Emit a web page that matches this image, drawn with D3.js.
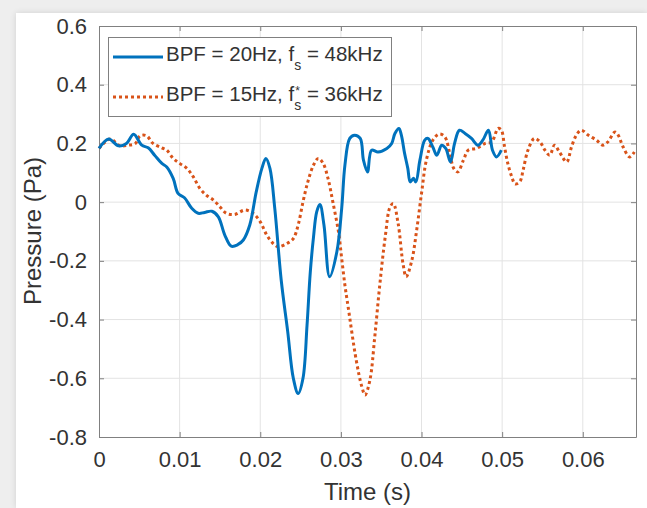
<!DOCTYPE html>
<html>
<head>
<meta charset="utf-8">
<script src="https://cdn.jsdelivr.net/npm/d3@7"></script>
<style>
  body { margin: 0; background: #eeeeee; }
  #panel { position: absolute; left: 16px; top: 13px; width: 631px; height: 495px; background: #fff; box-shadow: 0 0 6px rgba(0,0,0,0.12); }
  svg { position: absolute; left: 0; top: 0; font-family: "Liberation Sans", Arial, sans-serif; }
</style>
</head>
<body>
<div id="panel"></div>
<svg width="647" height="508"></svg>
<script>
// BPF = 20Hz, fs = 48kHz
var blueT = [0, 0.0012, 0.0024, 0.0034, 0.0043, 0.0053, 0.0061, 0.0069, 0.0078, 0.0084, 0.0092, 0.0098,
  0.0106, 0.0115, 0.0123, 0.0131, 0.0140, 0.0148, 0.0156, 0.0164, 0.0172, 0.0179, 0.0187, 0.0195,
  0.0202, 0.0207, 0.0212, 0.0218, 0.0226, 0.0234, 0.0241, 0.0247, 0.0253, 0.0258, 0.0262, 0.0266,
  0.0270, 0.0274, 0.0279, 0.0286, 0.0295, 0.0301, 0.0305, 0.0311, 0.0317, 0.0324, 0.0328, 0.0333,
  0.0338, 0.0346, 0.0357, 0.0363, 0.0367, 0.0372, 0.0375, 0.0379, 0.0383, 0.0386, 0.0390, 0.0393,
  0.0398, 0.0404, 0.0408, 0.0414, 0.0419, 0.0425, 0.0430, 0.0436, 0.0441, 0.0447, 0.0454, 0.0462,
  0.0470, 0.0476, 0.0483, 0.0488, 0.0493, 0.0499];
var blueP = [0.183, 0.215, 0.192, 0.200, 0.231, 0.194, 0.185, 0.160, 0.132, 0.120, 0.081, 0.030,
  0.015, -0.021, -0.038, -0.035, -0.031, -0.050, -0.112, -0.150, -0.145, -0.129, -0.078, 0.035,
  0.115, 0.149, 0.115, -0.021, -0.266, -0.44, -0.60, -0.652, -0.60, -0.42, -0.24, -0.12,
  -0.033, -0.008, -0.078, -0.254, -0.169, -0.021, 0.126, 0.217, 0.228, 0.217, 0.143, 0.103,
  0.177, 0.171, 0.183, 0.200, 0.234, 0.251, 0.228, 0.166, 0.115, 0.069, 0.081, 0.069,
  0.143, 0.211, 0.217, 0.188, 0.160, 0.194, 0.183, 0.137, 0.200, 0.245, 0.234, 0.217,
  0.194, 0.211, 0.245, 0.177, 0.154, 0.177];

// BPF = 15Hz, fs* = 36kHz
var orangeT = [0, 0.0014, 0.0026, 0.0036, 0.0045, 0.0051, 0.0059, 0.0067, 0.0078, 0.0084, 0.0092, 0.0100,
  0.0109, 0.0117, 0.0125, 0.0133, 0.0142, 0.0150, 0.0158, 0.0168, 0.0181, 0.0191, 0.0200, 0.0208,
  0.0216, 0.0222, 0.0233, 0.0241, 0.0247, 0.0253, 0.0259, 0.0266, 0.0272, 0.0278, 0.0284, 0.0290,
  0.0297, 0.0301, 0.0305, 0.0309, 0.0319, 0.0326, 0.0330, 0.0336, 0.0342, 0.0348, 0.0355, 0.0361,
  0.0365, 0.0371, 0.0377, 0.0381, 0.0388, 0.0394, 0.0400, 0.0406, 0.0414, 0.0422, 0.0429, 0.0435,
  0.0440, 0.0445, 0.0452, 0.0458, 0.0468, 0.0479, 0.0487, 0.0495, 0.0499, 0.0503, 0.0507, 0.0512,
  0.0516, 0.0522, 0.0526, 0.0532, 0.0540, 0.0547, 0.0553, 0.0559, 0.0565, 0.0571, 0.0580, 0.0586,
  0.0592, 0.0598, 0.0607, 0.0617, 0.0625, 0.0631, 0.0640, 0.0644, 0.0650, 0.0658, 0.0664];
var orangeP = [0.183, 0.215, 0.192, 0.194, 0.200, 0.226, 0.226, 0.200, 0.185, 0.177, 0.149, 0.132,
  0.115, 0.086, 0.047, 0.024, 0.007, -0.016, -0.038, -0.042, -0.027, -0.038, -0.067, -0.112,
  -0.141, -0.152, -0.141, -0.124, -0.078, 0.001, 0.069, 0.126, 0.149, 0.132, 0.081, 0.001,
  -0.101, -0.192, -0.283, -0.357, -0.538, -0.629, -0.657, -0.606, -0.459, -0.288, -0.118, -0.016,
  -0.005, -0.073, -0.209, -0.254, -0.198, -0.095, 0.030, 0.143, 0.211, 0.232, 0.222, 0.166,
  0.115, 0.103, 0.143, 0.177, 0.183, 0.200, 0.205, 0.251, 0.245, 0.188, 0.132, 0.086,
  0.062, 0.070, 0.109, 0.177, 0.217, 0.205, 0.177, 0.160, 0.194, 0.171, 0.137, 0.188,
  0.228, 0.245, 0.228, 0.211, 0.194, 0.205, 0.239, 0.228, 0.188, 0.154, 0.171];

var xTicks = [0, 0.01, 0.02, 0.03, 0.04, 0.05, 0.06];
var yTicks = [-0.8, -0.6, -0.4, -0.2, 0, 0.2, 0.4, 0.6];

var svg = d3.select("svg");
var mLeft = 99, mRight = 636, mTop = 26, mBottom = 437;

var x = d3.scaleLinear().domain([0, 0.0666]).range([mLeft, mRight]);
var y = d3.scaleLinear().domain([-0.8, 0.6]).range([mBottom, mTop]);

// grid
svg.append("g").selectAll("line")
  .data(xTicks.slice(1))
  .enter().append("line")
  .attr("x1", function(d) { return x(d); }).attr("x2", function(d) { return x(d); })
  .attr("y1", mTop).attr("y2", mBottom)
  .attr("stroke", "#e3e3e3");
svg.append("g").selectAll("line")
  .data(yTicks.slice(1, -1))
  .enter().append("line")
  .attr("y1", function(d) { return y(d); }).attr("y2", function(d) { return y(d); })
  .attr("x1", mLeft).attr("x2", mRight)
  .attr("stroke", "#e3e3e3");

// axes, ticks pointing inward like matlab
var fmt = function(d) { return d === 0 ? "0" : String(+d.toFixed(2)); };
var xAxis = svg.append("g")
  .attr("transform", "translate(0," + mBottom + ")")
  .call(d3.axisBottom(x).tickValues(xTicks).tickSizeInner(-5).tickSizeOuter(0).tickPadding(14).tickFormat(fmt));
var yAxis = svg.append("g")
  .attr("transform", "translate(" + mLeft + ",0)")
  .call(d3.axisLeft(y).tickValues(yTicks).tickSizeInner(-5).tickSizeOuter(0).tickPadding(12).tickFormat(fmt));
svg.append("g")
  .attr("transform", "translate(0," + mTop + ")")
  .call(d3.axisTop(x).tickValues(xTicks).tickSizeInner(-5).tickSizeOuter(0).tickFormat(""));
svg.append("g")
  .attr("transform", "translate(" + mRight + ",0)")
  .call(d3.axisRight(y).tickValues(yTicks).tickSizeInner(-5).tickSizeOuter(0).tickFormat(""));

svg.selectAll(".domain").attr("stroke", "#808080");
svg.selectAll(".tick line").attr("stroke", "#808080");
svg.selectAll(".tick text").attr("fill", "#333").style("font-size", "22px");

// lines
var line = d3.line()
  .x(function(d) { return x(d[0]); })
  .y(function(d) { return y(d[1]); })
  .curve(d3.curveCatmullRom.alpha(0.5));

var orangeData = orangeT.map(function(t, i) { return [t, orangeP[i]]; });
var blueData = blueT.map(function(t, i) { return [t, blueP[i]]; });

svg.append("path")
  .datum(orangeData)
  .attr("d", line)
  .attr("fill", "none")
  .attr("stroke", "#D95319")
  .attr("stroke-width", 3)
  .attr("stroke-dasharray", "3,3");

svg.append("path")
  .datum(blueData)
  .attr("d", line)
  .attr("fill", "none")
  .attr("stroke", "#0072BD")
  .attr("stroke-width", 3);

// axis labels
svg.append("text")
  .attr("x", (mLeft + mRight) / 2).attr("y", 500)
  .attr("text-anchor", "middle")
  .attr("fill", "#333")
  .style("font-size", "24px")
  .text("Time (s)");
svg.append("text")
  .attr("transform", "translate(41,231) rotate(-90)")
  .attr("text-anchor", "middle")
  .attr("fill", "#333")
  .style("font-size", "24px")
  .text("Pressure (Pa)");

// legend
var legend = svg.append("g");
legend.append("rect")
  .attr("x", 108.5).attr("y", 37.5).attr("width", 283).attr("height", 79)
  .attr("fill", "#fff").attr("stroke", "#808080");

var items = [
  {label: "BPF = 20Hz, f", rest: " = 48kHz", star: false, color: "#0072BD", dash: null, y: 57},
  {label: "BPF = 15Hz, f", rest: " = 36kHz", star: true, color: "#D95319", dash: "3,3", y: 97}
];
items.forEach(function(it) {
  legend.append("line")
    .attr("x1", 113).attr("x2", 163).attr("y1", it.y).attr("y2", it.y)
    .attr("stroke", it.color).attr("stroke-width", 3)
    .attr("stroke-dasharray", it.dash);
  var t = legend.append("text")
    .attr("x", 166).attr("y", it.y + 4)
    .attr("fill", "#333")
    .style("font-size", "20.5px");
  var first = t.append("tspan").text(it.label);
  t.append("tspan").attr("dy", 9).style("font-size", "14px").text("s");
  t.append("tspan").attr("dy", -9).text(it.rest);
  if (it.star) {
    var sx = 166 + first.node().getComputedTextLength();
    legend.append("text")
      .attr("x", sx + 1).attr("y", it.y - 2)
      .attr("fill", "#333")
      .style("font-size", "12px")
      .text("*");
  }
});
</script>
</body>
</html>
